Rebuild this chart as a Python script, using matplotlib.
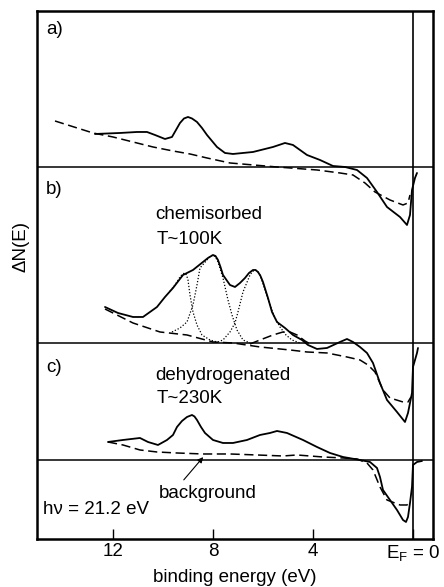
import matplotlib
matplotlib.use("Agg")
import matplotlib.pyplot as plt

plt.rcParams["font.family"] = ["Liberation Sans", "DejaVu Sans"]
plt.rcParams["mathtext.fontset"] = "custom"
plt.rcParams["mathtext.rm"] = "Liberation Sans"
plt.rcParams["mathtext.it"] = "Liberation Sans"

FS = 13.5

# vertical offsets of the three difference spectra (zero lines)
offsets = {"a": 37.2, "b": 19.6, "c": 7.9}

# ---- a) clean surface difference spectrum ----
a_E = [12.72, 11.72, 11.04, 10.64, 10.32, 9.92, 9.64, 9.48, 9.32, 9.16, 9.00, 8.84,
       8.64, 8.44, 8.24, 7.84, 7.52, 7.20, 6.40, 5.60, 5.12, 4.80, 4.24, 3.72, 3.20,
       2.72, 2.24, 1.84, 1.44, 1.04, 0.52, 0.24, 0.12, 0.04, -0.08, -0.16]
a_N = [3.3, 3.4, 3.5, 3.5, 3.2, 2.8, 3.0, 3.7, 4.4, 4.85, 5.0, 4.85,
       4.5, 3.9, 3.2, 2.0, 1.4, 1.3, 1.5, 2.0, 2.4, 2.2, 1.2, 0.7, 0.1,
       0.0, -0.3, -1.1, -2.5, -4.0, -5.0, -5.8, -4.8, -2.3, -1.1, -0.6]
a_bg_E = [14.32, 12.80, 12.00, 11.20, 10.40, 9.60, 8.92, 8.24, 7.32, 5.44, 3.84,
          2.92, 2.40, 1.92, 1.52, 0.92, 0.40, 0.20, 0.12]
a_bg_N = [4.6, 3.4, 3.0, 2.5, 2.0, 1.6, 1.3, 0.9, 0.4, 0.0, -0.3,
          -0.6, -0.8, -1.6, -2.5, -3.3, -3.8, -3.6, -2.8]

# ---- b) chemisorbed, T~100K ----
b_E = [12.32, 11.80, 11.20, 10.80, 10.24, 9.92, 9.60, 9.20, 8.80, 8.40, 8.20, 8.00,
       7.90, 7.80, 7.70, 7.60, 7.32, 7.12, 6.92, 6.72, 6.56, 6.40, 6.30, 6.20, 6.10,
       6.00, 5.80, 5.64, 5.44, 5.12, 4.80, 4.44, 4.20, 3.84, 3.44, 2.92, 2.64, 2.40,
       2.12, 1.84, 1.60, 1.32, 1.04, 0.64, 0.32, 0.20, 0.04, 0.00, -0.16, -0.20]
b_N = [3.6, 3.0, 2.6, 2.6, 3.6, 4.6, 5.5, 6.8, 7.3, 8.1, 8.5, 8.8,
       8.7, 8.3, 7.6, 6.8, 5.8, 5.6, 6.0, 6.5, 7.0, 7.3, 7.3, 7.1, 6.7,
       6.1, 4.5, 3.1, 2.1, 1.5, 0.8, 0.3, -0.2, -0.6, -0.5, 0.1, 0.4, 0.1,
       -0.4, -1.0, -2.0, -4.0, -5.7, -6.9, -7.9, -7.0, -5.0, -2.4, -1.0, -0.5]
b_bg_E = [12.32, 11.20, 10.12, 9.04, 8.00, 7.20, 6.12, 4.92, 4.24, 3.44, 2.64,
          2.12, 1.80, 1.52, 1.20, 0.92, 0.40, 0.20, 0.08]
b_bg_N = [3.4, 2.0, 1.1, 0.8, 0.1, 0.0, -0.4, -0.7, -0.9, -1.0, -1.4,
          -1.7, -2.2, -2.9, -4.7, -5.5, -5.9, -5.9, -5.4]

# fitted emission components of b)
b_p1_E = [9.72, 9.52, 9.32, 9.22, 9.12, 9.06, 9.00, 8.92, 8.80, 8.64, 8.44, 8.12, 7.84]
b_p1_N = [5.2, 5.8, 6.6, 6.9, 7.0, 6.8, 6.3, 4.8, 3.1, 1.8, 0.8, 0.3, 0.1]
b_p2_E = [9.64, 9.32, 9.04, 8.80, 8.64, 8.52, 8.24, 8.12, 8.00, 7.90, 7.80, 7.60,
          7.40, 7.24, 7.04, 6.80, 6.52]
b_p2_N = [1.1, 1.5, 2.1, 3.8, 5.8, 7.5, 8.3, 8.65, 8.8, 8.6, 8.1, 6.5,
          4.3, 2.8, 1.3, 0.3, 0.0]
b_p3_E = [7.80, 7.60, 7.32, 7.12, 7.00, 6.80, 6.52, 6.42, 6.32, 6.22, 6.12, 5.92,
          5.72, 5.52, 5.32, 5.08, 4.84, 4.52]
b_p3_N = [0.1, 0.3, 1.1, 2.0, 3.1, 5.1, 6.8, 7.15, 7.3, 7.2, 6.8, 5.3,
          3.8, 2.5, 1.6, 0.8, 0.3, 0.0]
b_p4_E = [6.52, 6.12, 5.60, 5.20, 4.92, 4.64, 4.32, 4.04]
b_p4_N = [-0.1, 0.3, 0.8, 1.1, 1.1, 0.8, 0.2, -0.2]

# ---- c) dehydrogenated, T~230K ----
c_E = [12.20, 11.60, 10.92, 10.60, 10.20, 9.84, 9.60, 9.44, 9.24, 9.04, 8.84, 8.74,
       8.64, 8.48, 8.32, 8.00, 7.60, 7.20, 6.64, 6.12, 5.72, 5.44, 5.04, 4.40, 3.84,
       3.32, 2.80, 2.12, 1.72, 1.44, 1.32, 1.20, 0.92, 0.64, 0.40, 0.28, 0.20, 0.12,
       0.04, 0.00, -0.16, -0.36]
c_N = [1.8, 2.0, 2.2, 1.8, 1.5, 2.0, 2.5, 3.3, 3.9, 4.3, 4.5, 4.35,
       4.0, 3.3, 2.7, 2.0, 1.7, 1.7, 2.0, 2.5, 2.7, 2.9, 2.7, 2.0, 1.3,
       0.7, 0.3, 0.0, -0.2, -0.8, -1.7, -3.0, -4.0, -5.0, -6.0, -6.2, -5.7, -4.3,
       -2.7, -0.5, -0.2, -0.1]
c_bg_E = [12.20, 11.60, 10.92, 10.24, 9.44, 8.40, 7.32, 6.24, 5.20, 4.64, 3.60,
          2.80, 2.24, 1.84, 1.60, 1.32, 1.04, 0.52, 0.24, 0.12]
c_bg_N = [1.8, 1.5, 1.0, 0.8, 0.7, 0.6, 0.6, 0.5, 0.4, 0.5, 0.3,
          0.2, 0.1, -0.3, -1.0, -2.7, -4.0, -4.5, -4.5, -4.2]

x_ticks = [12, 8, 4, 0]
x_ticklabels = ["12", "8", "4", r"E$_\mathregular{F}$ = 0"]

fig = plt.figure(figsize=(4.44, 5.87), dpi=100)
ax = fig.add_axes([0.0833, 0.0818, 0.8919, 0.8995])


def shift(vals, key):
    return [v + offsets[key] for v in vals]


solid_kw = dict(color="black", lw=1.3, solid_capstyle="round", solid_joinstyle="round")
dash_kw = dict(color="black", lw=1.1, ls=(0, (6, 3)))
dot_kw = dict(color="black", lw=0.9, ls=(0, (1, 1.5)))

ax.plot(a_E, shift(a_N, "a"), **solid_kw)
ax.plot(a_bg_E, shift(a_bg_N, "a"), **dash_kw)

ax.plot(b_E, shift(b_N, "b"), **solid_kw)
ax.plot(b_bg_E, shift(b_bg_N, "b"), **dash_kw)
for pe, pn in [(b_p1_E, b_p1_N), (b_p2_E, b_p2_N), (b_p3_E, b_p3_N)]:
    ax.plot(pe, shift(pn, "b"), **dot_kw)
ax.plot(b_p4_E, shift(b_p4_N, "b"), **dash_kw)

ax.plot(c_E, shift(c_N, "c"), **solid_kw)
ax.plot(c_bg_E, shift(c_bg_N, "c"), **dash_kw)

# zero lines and Fermi level
for key in ("a", "b", "c"):
    ax.axhline(offsets[key], color="black", lw=1.1)
ax.axvline(0, color="black", lw=1.2)

ax.set_xlim(15.04, -0.8)
ax.set_ylim(0, 52.8)

ax.set_xticks(x_ticks)
ax.set_xticklabels(x_ticklabels, fontsize=FS)
ax.tick_params(axis="x", direction="in", length=7, width=1.0, pad=3)
ax.set_yticks([])
for sp in ax.spines.values():
    sp.set_linewidth(1.8)

ax.set_xlabel("binding energy (eV)", fontsize=FS, labelpad=4)
ax.set_ylabel("ΔN(E)", fontsize=FS)
ax.yaxis.set_label_coords(-0.02, 0.553)

# panel letters and annotations
ax.text(14.68, 50.9, "a)", fontsize=FS, va="center", ha="left")
ax.text(14.68, 34.9, "b)", fontsize=FS, va="center", ha="left")
ax.text(14.68, 17.1, "c)", fontsize=FS, va="center", ha="left")
ax.text(10.32, 32.4, "chemisorbed", fontsize=FS, va="center", ha="left")
ax.text(10.24, 29.9, "T~100K", fontsize=FS, va="center", ha="left")
ax.text(10.32, 16.3, "dehydrogenated", fontsize=FS, va="center", ha="left")
ax.text(10.24, 14.0, "T~230K", fontsize=FS, va="center", ha="left")
ax.text(10.16, 4.5, "background", fontsize=FS, va="center", ha="left")
ax.text(14.80, 2.9, "hν = 21.2 eV", fontsize=FS, va="center", ha="left")

ax.annotate("", xy=(8.32, 8.4), xytext=(9.24, 5.7),
            arrowprops=dict(arrowstyle="-|>", color="black", lw=0.8,
                            mutation_scale=8))

fig.savefig("out.png", dpi=100)
